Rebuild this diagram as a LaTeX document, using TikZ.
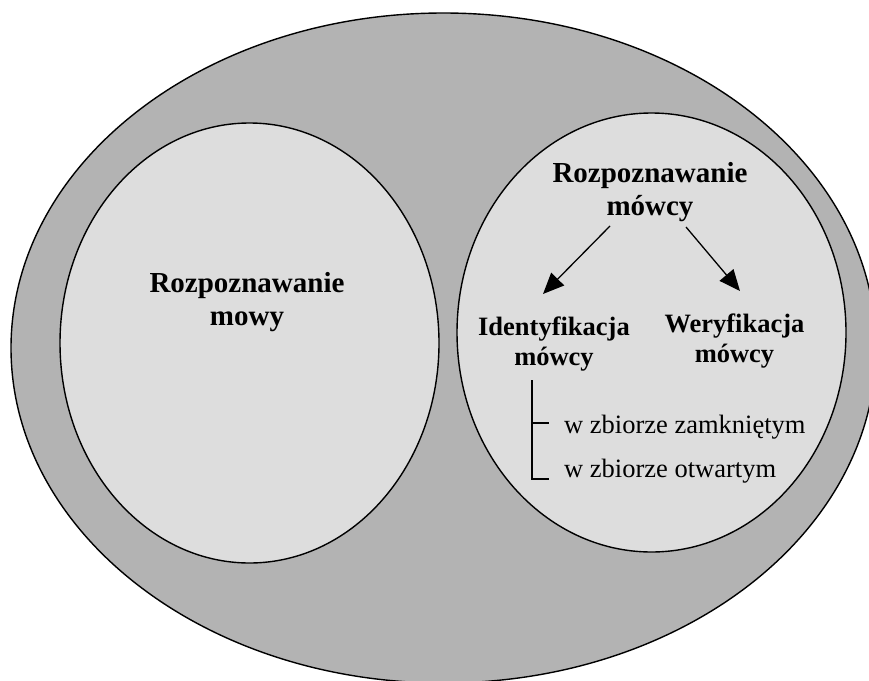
\documentclass[tikz,border=0pt]{standalone}
\usepackage{fontspec}
\setmainfont{Liberation Serif}
\usetikzlibrary{arrows.meta}
\definecolor{outergray}{RGB}{179,179,179}
\definecolor{innergray}{RGB}{221,221,221}
\tikzset{
  blob/.style={draw=black,line width=1.4pt},
  head/.style={font=\fontsize{29}{33}\selectfont\bfseries,inner sep=0pt,anchor=base},
  sub/.style={font=\fontsize{26.5}{30}\selectfont\bfseries,inner sep=0pt,anchor=base},
  plain/.style={font=\fontsize{26.5}{30}\selectfont,inner sep=0pt,anchor=base west},
  arr/.style={line width=1.3pt,-{Triangle[length=21pt,width=18pt]}},
  brk/.style={line width=1.3pt}
}
\begin{document}
\begin{tikzpicture}[x=1pt,y=-1pt]
\useasboundingbox (0,0) rectangle (869,680);
\clip (0,0) rectangle (869,680);
\draw[blob,fill=outergray] (443.5,348) ellipse [x radius=432.5,y radius=335];
\draw[blob,fill=innergray] (249.5,343) ellipse [x radius=189.5,y radius=220];
\draw[blob,fill=innergray] (651.5,332.5) ellipse [x radius=194.5,y radius=219.5];
% left text
\node[head] (rmowy1) at (247,292) {Rozpoznawanie};
\node[head] (rmowy2) at (247,325) {mowy};
% right text
\node[head] (rmow1) at (650,182) {Rozpoznawanie};
\node[head] (rmow2) at (650,215) {mówcy};
\node[sub] (id1) at (554,335) {Identyfikacja};
\node[sub] (id2) at (554,365) {mówcy};
\node[sub] (wer1) at (734.5,332) {Weryfikacja};
\node[sub] (wer2) at (734.5,362) {mówcy};
\node[plain] (zam) at (564,433) {w zbiorze zamkniętym};
\node[plain] (otw) at (564,477) {w zbiorze otwartym};
% arrows
\coordinate (a1s) at (610,226);
\coordinate (a1e) at (543,294);
\coordinate (a2s) at (686,227);
\coordinate (a2e) at (740,291);
\draw[arr] (a1s) -- (a1e);
\draw[arr] (a2s) -- (a2e);
% bracket
\coordinate (btop) at (532,380);
\coordinate (bmid) at (532,423);
\coordinate (bbot) at (532,479);
\draw[brk] (btop) -- (bbot) -- ++(17,0);
\draw[brk] (bmid) -- ++(17,0);
\end{tikzpicture}
\end{document}
